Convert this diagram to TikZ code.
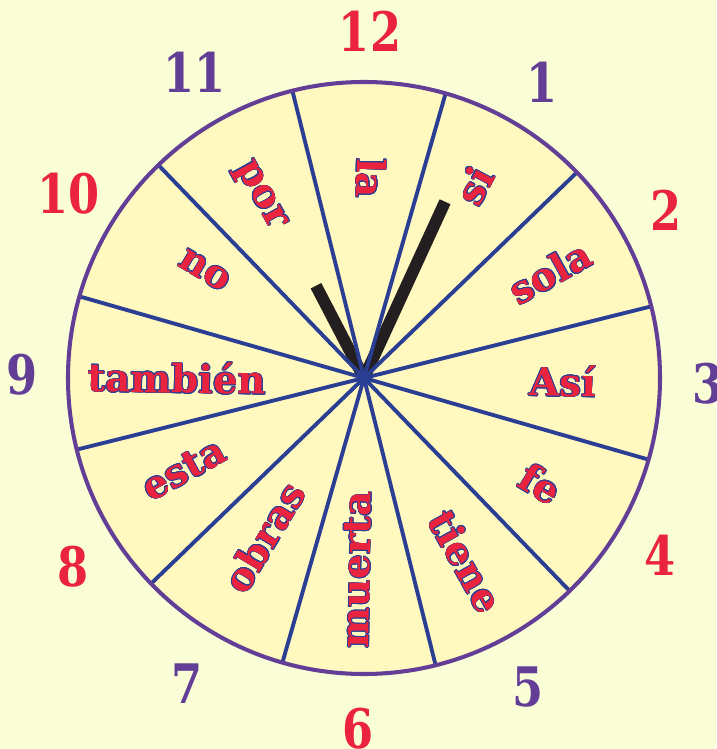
\documentclass[tikz,border=0pt]{standalone}
\usepackage{fontspec}
\setmainfont{DejaVu Serif}
\usepackage[copies]{contour}
\contourlength{0.35pt}
\contournumber{16}
\usepackage{tikz}
\usetikzlibrary{calc}
\definecolor{pagecream}{RGB}{250,254,214}
\definecolor{facecream}{RGB}{255,248,191}
\definecolor{rimpurple}{RGB}{98,62,150}
\definecolor{spokeblue}{RGB}{42,62,148}
\definecolor{wordred}{RGB}{234,36,62}
\definecolor{handblack}{RGB}{35,31,32}
\tikzset{
    rim/.style={draw=rimpurple, line width=2.3pt},
    spoke/.style={draw=spokeblue, line width=2.2pt},
    hand/.style={draw=handblack, line width=6.8pt, line cap=butt},
    wordtext/.style={inner sep=0pt, text=wordred, font=\fontsize{22}{22}\selectfont\bfseries},
    hourred/.style={inner sep=0pt, text=wordred, font=\fontsize{31}{31}\selectfont\bfseries},
    hourpurple/.style={inner sep=0pt, text=rimpurple, font=\fontsize{31}{31}\selectfont\bfseries}
}
% word in a sector: name, angle, radius, rotation, text
\newcommand{\sectorword}[5]{%
    \node[wordtext, rotate=#4] (#1) at (#2:#3) {\contour{spokeblue}{#5}};}
\newcommand{\narrow}[1]{\scalebox{0.82}[1]{#1}}

\begin{document}
\begin{tikzpicture}[x=0.02cm, y=0.02cm]
    % Page
    \fill[pagecream] (-364,-371) rectangle (352,378);
    \useasboundingbox (-364,-371) rectangle (352,378);
    \coordinate (ctr) at (0,0);

    % Face
    \fill[facecream] (ctr) circle (296);

    % Hands
    \coordinate (hourtip) at (117.5:104);
    \coordinate (minutetip) at (65.3:194);
    \draw[hand] (ctr) -- (hourtip);
    \draw[hand] (ctr) -- (minutetip);

    % Spokes
    \draw[spoke] (14:296) -- (194:296);
    \draw[spoke] (44:296) -- (224:296);
    \draw[spoke] (74:296) -- (254:296);
    \draw[spoke] (104:296) -- (284:296);
    \draw[spoke] (134:296) -- (314:296);
    \draw[spoke] (164:296) -- (344:296);
    \draw[rim] (ctr) circle (296);

    % Words
    \sectorword{la}{88}{200}{-91}{la}
    \sectorword{si}{60}{222}{62}{si}
    \sectorword{sola}{29.5}{214}{29}{sola}
    \sectorword{asi}{-1}{199}{-1}{Así}
    \sectorword{fe}{-31}{206}{-31}{fe}
    \sectorword{tiene}{-61}{210}{-61}{tiene}
    \sectorword{muerta}{-92}{192}{89}{muerta}
    \sectorword{obras}{-122}{188}{59}{obras}
    \sectorword{esta}{-153}{202}{29}{esta}
    \sectorword{tambien}{180}{187}{-1}{también}
    \sectorword{no}{146}{192}{-31}{no}
    \sectorword{por}{120}{210}{-61}{por}

    % Hours
    \node[hourred] (h12) at (89:347) {\narrow{12}};
    \node[hourpurple] (h1) at (59:345) {\narrow{1}};
    \node[hourred] (h2) at (29:345) {\narrow{2}};
    \node[hourpurple] (h3) at (-1:344) {\narrow{3}};
    \node[hourred] (h4) at (-31:345) {\narrow{4}};
    \node[hourpurple] (h5) at (-62:350) {\narrow{5}};
    \node[hourred] (h6) at (-91:351) {\narrow{6}};
    \node[hourpurple] (h7) at (-120:353) {\narrow{7}};
    \node[hourred] (h8) at (-147:347) {\narrow{8}};
    \node[hourpurple] (h9) at (179.5:342) {\narrow{9}};
    \node[hourred] (h10) at (148:348) {\narrow{10}};
    \node[hourpurple] (h11) at (119:350) {\narrow{11}};
\end{tikzpicture}
\end{document}
